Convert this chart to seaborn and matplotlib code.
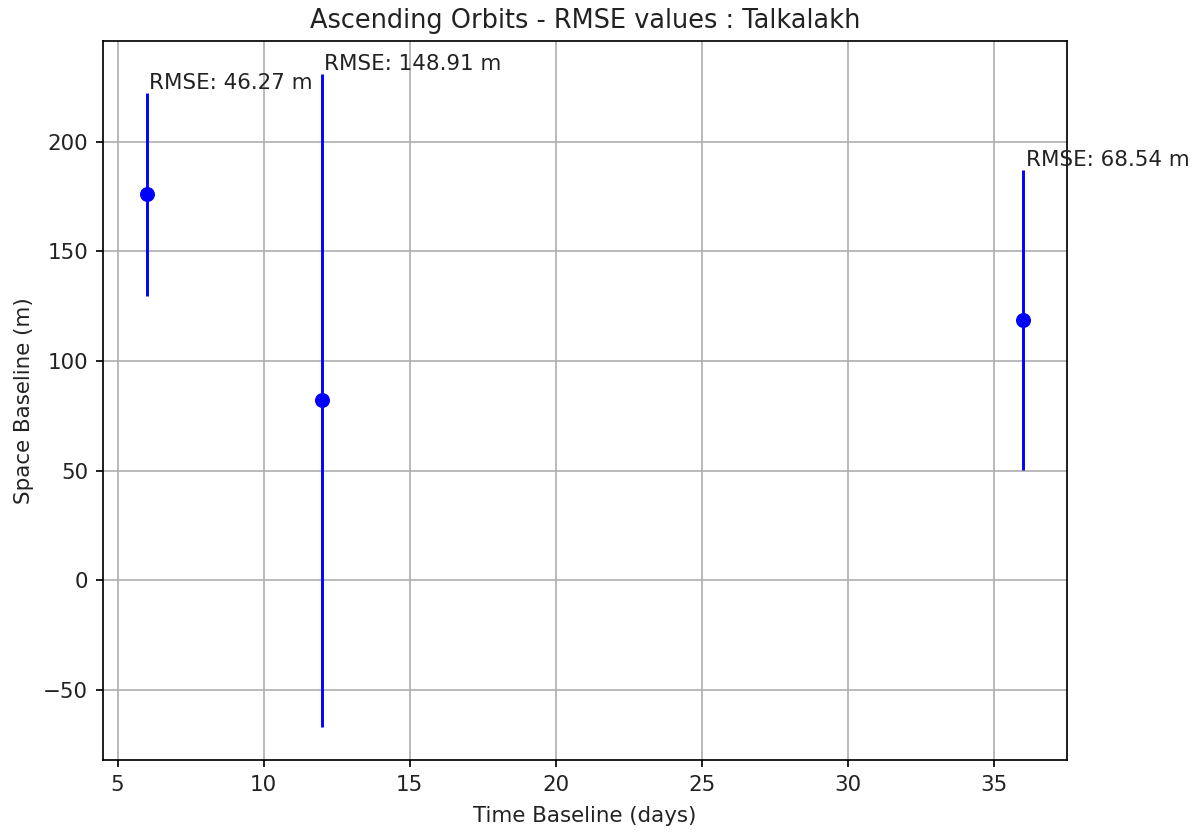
import matplotlib
matplotlib.use("Agg")
import matplotlib.pyplot as plt
import seaborn as sns
import pandas as pd

time_baseline = [6, 12, 36]
space_baseline = [176.0, 82.0, 118.7]
rmse = [46.27, 148.91, 68.54]
title = "Ascending Orbits - RMSE values : Talkalakh"

df = pd.DataFrame({"time": time_baseline, "space": space_baseline, "rmse": rmse})

S = 1.54
plt.rcParams["font.family"] = ["DejaVu Sans"]
fig = plt.figure(figsize=(12.03, 8.36), dpi=100)
ax = fig.add_axes([103 / 1203, 1 - 760 / 836, (1067 - 103) / 1203, (760 - 41) / 836])

ax.errorbar(df["time"], df["space"], yerr=df["rmse"], fmt="none", ecolor="blue",
            elinewidth=2.1, zorder=2)
sns.scatterplot(data=df, x="time", y="space", ax=ax, color="blue", s=10.8 ** 2,
                linewidth=0, zorder=3, legend=False)

for t, s, r in zip(time_baseline, space_baseline, rmse):
    ax.text(t + 0.08, s + r, f"RMSE: {r:.2f} m", fontsize=10 * S, color="#222222",
            va="bottom")

ax.set_xlim(4.5, 37.5)
ymin = min(s - r for s, r in zip(space_baseline, rmse))
ymax = max(s + r for s, r in zip(space_baseline, rmse))
pad = 0.05 * (ymax - ymin)
ax.set_ylim(ymin - pad, ymax + pad)

ax.grid(True, color="#b0b0b0", linewidth=0.8 * S)
ax.set_axisbelow(True)
ax.set_title(title, fontsize=12 * S, pad=6 * S, color="#222222")
ax.set_xlabel("Time Baseline (days)", fontsize=10 * S, labelpad=5 * S, color="#222222")
ax.set_ylabel("Space Baseline (m)", fontsize=10 * S, labelpad=4 * S, color="#222222")
ax.tick_params(labelsize=10 * S, length=3.5 * S, width=0.8 * S, pad=3.5 * S, labelcolor="#222222")
for sp in ax.spines.values():
    sp.set_linewidth(0.8 * S)

fig.savefig("out.png", dpi=100)
